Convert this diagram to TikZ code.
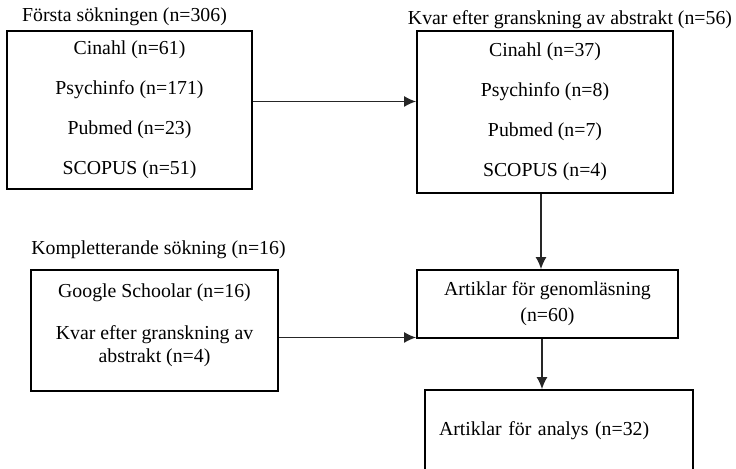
\documentclass[tikz,border=0pt]{standalone}
\usepackage{fontspec}
\setmainfont{Liberation Serif}
\usetikzlibrary{positioning,arrows.meta}

\begin{document}
\begin{tikzpicture}[
		x=0.5pt,y=-0.5pt,
		font=\fontsize{9.9}{11.5}\selectfont,
		box/.style={
		  draw,
		  line width=0.9pt,
		  align=center,
		  inner sep=0pt
		},
		head/.style={
		  inner sep=0pt
		},
		flow/.style={
		  -{Latex[length=6pt,width=5.5pt]},
		  line width=0.75pt,
		  draw=black!85
		}
		]
		\useasboundingbox (0,0) rectangle (736,469);

		% search boxes
		\node[box,minimum width=122.5pt,minimum height=79pt] at (129.5,110) 
		  (first) {Cinahl (n=61)\\[8.5pt] Psychinfo (n=171)\\[8.5pt] Pubmed (n=23)\\[8.5pt] SCOPUS (n=51)};
		\node[box,minimum width=128pt,minimum height=81pt] at (545,112) 
		  (kept) {Cinahl (n=37)\\[8.5pt] Psychinfo (n=8)\\[8.5pt] Pubmed (n=7)\\[8.5pt] SCOPUS (n=4)};
		\node[box,text depth=7pt,minimum width=123.5pt,minimum height=60.5pt] at (154.5,330.5) 
		  (extra) {Google Schoolar (n=16)\\[9.5pt] Kvar efter granskning av\\ abstrakt (n=4)};
		\node[box,minimum width=130.5pt,minimum height=34pt] at (547.5,304) 
		  (read) {Artiklar för genomläsning\\[1.5pt] (n=60)};
		\node[box,align=left,text width=120pt,minimum width=134pt,minimum height=41pt] at (559,431) 
		  (analys) {Artiklar för analys (n=32)};

		% headings
		\node[head] at (124.5,17) (firsthead) {Första sökningen (n=306)};
		\node[head] at (570,20) (kepthead) {Kvar efter granskning av abstrakt (n=56)};
		\node[head] at (158.5,250) (extrahead) {Kompletterande sökning (n=16)};

		\draw[flow] ([yshift=4.25pt]first.east) -- ([yshift=4.25pt]first.east -| kept.west);
		\draw[flow] ([xshift=-2pt]kept.south) -- ([xshift=-2pt]kept.south |- read.north);
		\draw[flow] ([yshift=-3.5pt]extra.east) -- ([yshift=-3.5pt]extra.east -| read.west);
		\draw[flow] ([xshift=-2.75pt]read.south) -- ([xshift=-2.75pt]read.south |- analys.north);
	\end{tikzpicture}
\end{document}
